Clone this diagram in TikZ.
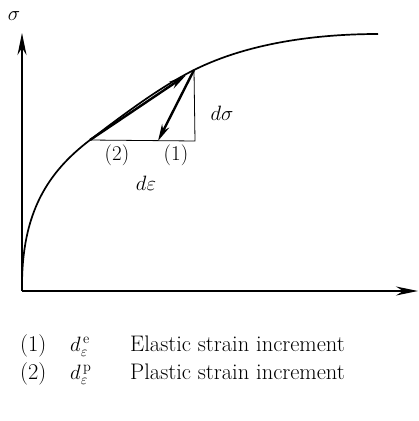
\documentclass[tikz,border=0pt]{standalone}
\usepackage{amsmath}
\usepackage{amssymb}
\usepackage{tikz}
\usetikzlibrary{arrows.meta,calc,positioning}
\tikzset{
  eje/.style={
    -{Stealth[length=22pt,width=9pt]},
    line width=1.7pt
  },
  curva/.style={
    line width=1.7pt
  },
  flecha/.style={
    -{Stealth[length=17pt,width=8pt]},
    line width=2.4pt
  },
  guia/.style={
    line width=0.8pt
  },
  etiqueta/.style={
    inner sep=0pt,
    font=\fontsize{21}{24}\selectfont
  },
  leyenda/.style={
    inner sep=0pt,
    anchor=base west,
    font=\fontsize{22.5}{26}\selectfont
  }
}

\begin{document}
\begin{tikzpicture}[x=1pt,y=-1pt]
\useasboundingbox (0,0) rectangle (419,421);

\coordinate (O) at (22,291);
\coordinate (A) at (90,140);
\coordinate (B) at (194,70);
\coordinate (C) at (158,141);
\coordinate (D) at (195,141);

% ejes
\draw[eje] (O) -- (22,33);
\draw[eje] (O) -- (418,291);
\node[etiqueta] (sig) at (14,16) {$\sigma$};

% curva
\draw[curva] (22,286) .. controls (22,212) and (48,172) .. (A)
  .. controls (128,111) and (162,86) .. (B)
  .. controls (250,42) and (320,34) .. (378,34);

% triangulo
\draw[guia] (A) -- (D) -- (B);
\draw[flecha] (B) -- (C);
\draw[flecha, shorten >=10pt] (A) -- (B);

\node[etiqueta] (n2) at (117,155) {(2)};
\node[etiqueta] (n1) at (176,155) {(1)};
\node[etiqueta] (deps) at (146,183) {$d\varepsilon$};
\node[etiqueta] (dsig) at (222,113) {$d\sigma$};

% leyenda
\node[leyenda] (l1) at (20,351) {(1)};
\node[leyenda] (m1) at (70,351) {$d^{\,\mathrm{e}}_{\varepsilon}$};
\node[leyenda] (t1) at (130,351) {Elastic strain increment};
\node[leyenda] (l2) at (20,379) {(2)};
\node[leyenda] (m2) at (70,379) {$d^{\,\mathrm{p}}_{\varepsilon}$};
\node[leyenda] (t2) at (130,379) {Plastic strain increment};
\end{tikzpicture}
\end{document}
